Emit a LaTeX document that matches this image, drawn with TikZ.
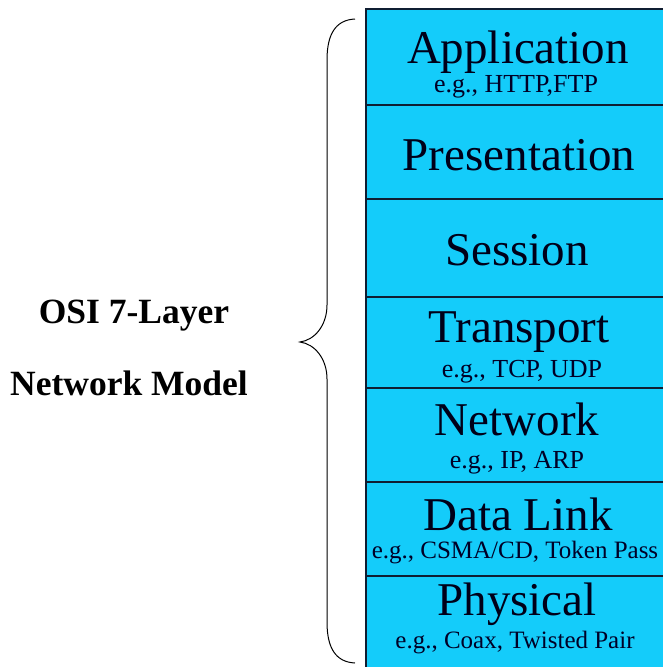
\documentclass[tikz,border=0pt]{standalone}
\usepackage{fontspec}
\setmainfont{Liberation Serif}
\definecolor{layerfill}{RGB}{20,204,250}
\definecolor{layerline}{RGB}{15,30,50}
\tikzset{
  layerbox/.style={draw=layerline, line width=2pt, fill=layerfill, anchor=north west,
    minimum width=310pt, inner sep=0pt, outer sep=0pt},
  title/.style={anchor=base, inner sep=0pt, font=\fontsize{47}{50}\selectfont, text=black!90!blue},
  sub/.style={anchor=base, inner sep=0pt, font=\fontsize{25}{28}\selectfont, text=black!85!blue},
  side/.style={anchor=base, inner sep=0pt, font=\bfseries\fontsize{35.5}{38}\selectfont},
  bracepath/.style={draw=black, line width=1pt}
}
\begin{document}
\begin{tikzpicture}[x=1pt,y=-1pt]
\useasboundingbox (0,0) rectangle (663,667);
\fill[white] (0,0) rectangle (663,667);
% layers
\node[layerbox, minimum height=96pt] (app)  at (366,9)   {};
\node[layerbox, minimum height=94pt] (pres) at (366,105) {};
\node[layerbox, minimum height=98pt] (sess) at (366,199) {};
\node[layerbox, minimum height=91pt] (tran) at (366,297) {};
\node[layerbox, minimum height=94pt] (netw) at (366,388) {};
\node[layerbox, minimum height=94pt] (dlnk) at (366,482) {};
\node[layerbox, minimum height=110pt] (phys) at (366,576) {};
% texts
\node[title] (tapp) at (518,63) {Application};
\node[sub, font=\fontsize{26}{28}\selectfont] (sapp) at (516,92) {e.g., HTTP,FTP};
\node[title] (tpres) at (519,170) {Presentation};
\node[title] (tsess) at (517,265) {Session};
\node[title] (ttran) at (519,342) {Transport};
\node[sub, font=\fontsize{26}{28}\selectfont] (stran) at (522,377) {e.g., TCP, UDP};
\node[title] (tnetw) at (517,435) {Network};
\node[sub, font=\fontsize{26}{28}\selectfont] (snetw) at (517,468) {e.g., IP, ARP};
\node[title] (tdlnk) at (518,530) {Data Link};
\node[sub] (sdlnk) at (515,558) {e.g., CSMA/CD, Token Pass};
\node[title] (tphys) at (517,615) {Physical};
\node[sub] (sphys) at (515,648) {e.g., Coax, Twisted Pair};
% side label
\node[side] (l1) at (134,323) {OSI 7-Layer};
\node[side] (l2) at (129,395) {Network Model};
% brace
\coordinate (btop) at (355,19);
\coordinate (btip) at (300,342);
\coordinate (bbot) at (355,663);
\draw[bracepath] (btop) .. controls (335,20) and (327,35) .. (327,60)
  -- (327,305) .. controls (327,325) and (315,340) .. (btip)
  .. controls (315,344) and (327,359) .. (327,379)
  -- (327,622) .. controls (327,647) and (335,662) .. (bbot);
\end{tikzpicture}
\end{document}
